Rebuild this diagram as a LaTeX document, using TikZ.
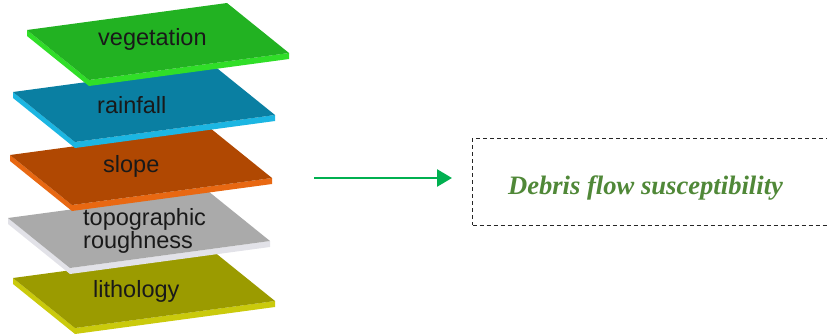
\documentclass[tikz,border=0pt]{standalone}
\usepackage{fontspec}
\setmainfont{Liberation Sans}
\newfontfamily\resultfont{Liberation Serif}
\usetikzlibrary{arrows.meta}
\definecolor{vegtop}{RGB}{34,178,34}
\definecolor{vegedge}{RGB}{48,222,40}
\definecolor{raintop}{RGB}{10,127,162}
\definecolor{rainedge}{RGB}{28,182,226}
\definecolor{slopetop}{RGB}{176,72,2}
\definecolor{slopeedge}{RGB}{232,104,18}
\definecolor{topotop}{RGB}{170,170,170}
\definecolor{topoedge}{RGB}{226,226,232}
\definecolor{lithtop}{RGB}{155,155,0}
\definecolor{lithedge}{RGB}{202,202,12}
\definecolor{arrowgreen}{RGB}{0,176,80}
\definecolor{debrisgreen}{RGB}{80,136,56}
\tikzset{layerlabel/.style={anchor=base west, inner sep=0pt, align=left,
                            font=\fontsize{23.5}{21}\selectfont, text=black!90}}
\tikzset{resultbox/.style={draw=black!85, dash pattern=on 4pt off 3pt, line width=1pt,
                           minimum width=380pt, minimum height=87pt,
                           anchor=north west, inner sep=0pt}}
\tikzset{flowarrow/.style={draw=arrowgreen, line width=2.7pt,
                           -{Triangle[length=15pt,width=17pt]}}}
% one slab: left corner, top colour, edge colour
\newcommand{\layer}[3]{%
  \fill[#3] (#1) -- ++(62,50) -- ++(200,-27) -- ++(0,6) -- ++(-200,27) -- ++(-62,-50) -- cycle;
  \fill[#2] (#1) -- ++(200,-27) -- ++(62,50) -- ++(-200,27) -- cycle;}

\begin{document}
\begin{tikzpicture}[x=1pt,y=-1pt]
    \useasboundingbox (0,0) rectangle (827,335);
    \clip (0,0) rectangle (827,335);
    % stack of layers, bottom first
    \layer{13,278}{lithtop}{lithedge}
    \node[layerlabel] (lithology) at (93,297) {lithology};
    \layer{8,218}{topotop}{topoedge}
    \node[layerlabel] (roughness) at (83,248) {topographic\\roughness}; % base = last line
    \layer{10,155}{slopetop}{slopeedge}
    \node[layerlabel] (slope) at (103,172) {slope};
    \layer{13,92}{raintop}{rainedge}
    \node[layerlabel] (rainfall) at (97,113) {rainfall};
    \layer{27,30}{vegtop}{vegedge}
    \node[layerlabel] (vegetation) at (98,45) {vegetation};
    % result
    \node[resultbox] (box) at (472,137.5) {};
    \node[anchor=base, inner sep=0pt, text=debrisgreen,
          font=\resultfont\bfseries\itshape\fontsize{26.6}{30}\selectfont]
          (result) at (645.5,194) {Debris flow susceptibility};
    \coordinate (stackout) at (314,178);
    \coordinate (boxin) at (452,178);
    \draw[flowarrow] (stackout) -- (boxin);
\end{tikzpicture}
\end{document}
